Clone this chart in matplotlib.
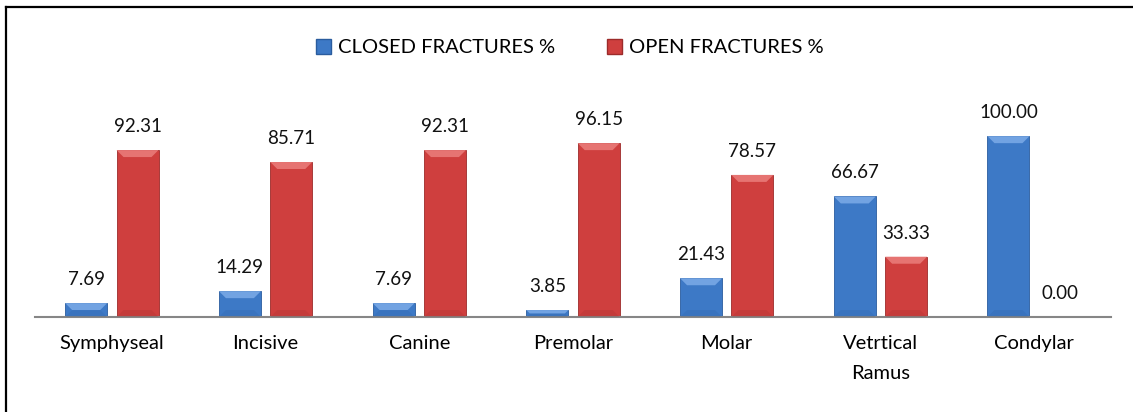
import numpy as np
import matplotlib.pyplot as plt
from matplotlib.patches import Patch, Polygon
from matplotlib.lines import Line2D

plt.rcParams['font.family'] = ['Lato', 'DejaVu Sans']

categories = ['Symphyseal', 'Incisive', 'Canine', 'Premolar', 'Molar', 'Vetrtical\nRamus', 'Condylar']
closed_pct = [7.69, 14.29, 7.69, 3.85, 21.43, 66.67, 100.00]
open_pct = [92.31, 85.71, 92.31, 96.15, 78.57, 33.33, 0.00]

BLUE = '#3d79c6'
BLUE_LIGHT = '#72a3e2'
BLUE_DARK = '#2a5c9e'
RED = '#cf3f3e'
RED_LIGHT = '#e67472'
RED_DARK = '#9c2b2a'

fig = plt.figure(figsize=(11.33, 4.12), dpi=100)
ax = fig.add_axes([35 / 1133, 95 / 412, 1076 / 1133, 217 / 412])

x = np.arange(len(categories))
w = 0.273
off = 0.167

b1 = ax.bar(x - off, closed_pct, w, color=BLUE, edgecolor=BLUE_DARK, linewidth=0.6, zorder=2)
b2 = ax.bar(x + off, open_pct, w, color=RED, edgecolor=RED_DARK, linewidth=0.6, zorder=2)

ax.set_xlim(-0.5, len(categories) - 0.5)
ax.set_ylim(0, 120)

# bevel look: lighter top, darker bottom
bx = 7 / 153.7
by = 7 / 1.81
for bars, light, dark in [(b1, BLUE_LIGHT, BLUE_DARK), (b2, RED_LIGHT, RED_DARK)]:
    for p in bars:
        x0, bw, h = p.get_x(), p.get_width(), p.get_height()
        if h <= 0:
            continue
        dy = min(by, h / 2)
        dx = bx * dy / by
        top = Polygon([(x0, h), (x0 + bw, h), (x0 + bw - dx, h - dy), (x0 + dx, h - dy)],
                      closed=True, facecolor=light, edgecolor='none', zorder=3)
        bot = Polygon([(x0, 0), (x0 + bw, 0), (x0 + bw - dx, dy), (x0 + dx, dy)],
                      closed=True, facecolor=dark, edgecolor='none', alpha=0.2, zorder=3)
        ax.add_patch(top)
        ax.add_patch(bot)

for bars, vals in [(b1, closed_pct), (b2, open_pct)]:
    for p, v in zip(bars, vals):
        ax.annotate(f'{v:.2f}', (p.get_x() + p.get_width() / 2, p.get_height()),
                    xytext=(0, 17), textcoords='offset points',
                    ha='center', va='center', fontsize=13.5, color='#111111')

for s in ['top', 'right', 'left']:
    ax.spines[s].set_visible(False)
ax.spines['bottom'].set_color('#868686')
ax.spines['bottom'].set_linewidth(1.5)
ax.set_yticks([])
ax.set_xticks(x)
ax.set_xticklabels(categories, fontsize=14.5, linespacing=1.95)
ax.tick_params(axis='x', length=0, pad=13)

handles = [Patch(facecolor=BLUE, edgecolor=BLUE_DARK, label='CLOSED FRACTURES %'),
           Patch(facecolor=RED, edgecolor=RED_DARK, label='OPEN FRACTURES %')]
fig.legend(handles=handles, loc='center', bbox_to_anchor=(0.503, 0.884), ncol=2,
           frameon=False, fontsize=14.5, handlelength=0.75, handleheight=0.75,
           handletextpad=0.35, columnspacing=2.6)

# outer frame (top and left edges visible)
fig.add_artist(Line2D([6 / 1133, 1], [1 - 7 / 412, 1 - 7 / 412], color='black', linewidth=1.6,
                      transform=fig.transFigure))
fig.add_artist(Line2D([6 / 1133, 6 / 1133], [0, 1 - 7 / 412], color='black', linewidth=1.6,
                      transform=fig.transFigure))

fig.savefig('out.png', dpi=100, facecolor='white')
